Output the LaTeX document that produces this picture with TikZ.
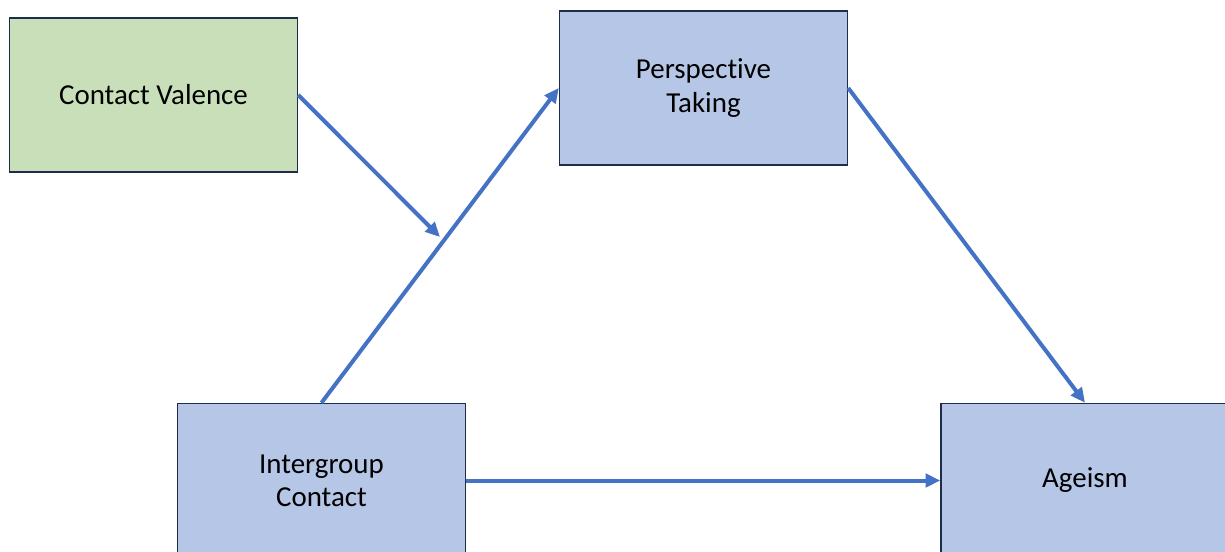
\documentclass[tikz,border=0pt]{standalone}
\usepackage{fontspec}
\setmainfont{Carlito}[Ligatures=NoCommon]
\usetikzlibrary{arrows.meta}
\definecolor{boxblue}{HTML}{B6C6E6}
\definecolor{boxgreen}{HTML}{C9DFB9}
\definecolor{edgenavy}{HTML}{1F2D4D}
\definecolor{arrowblue}{HTML}{4472C4}
\tikzset{
  varbox/.style={draw=edgenavy, line width=1.1pt, fill=boxblue, minimum width=288*0.75pt, minimum height=154*0.75pt, inner sep=0pt, align=center, font=\fontsize{21.7pt}{25pt}\selectfont},
  link/.style={draw=arrowblue, line width=3pt, -{Triangle[length=11pt,width=10pt]}}
}
\begin{document}
\begin{tikzpicture}[x=0.75pt,y=-0.75pt]
\useasboundingbox (0,0) rectangle (1225,552);
\clip (0,0) rectangle (1225,552);
\node[varbox, fill=boxgreen] (cv) at (153.5,95) {Contact Valence};
\node[varbox] (pt) at (703.5,88) {Perspective\\Taking};
\node[varbox] (ic) at (321.5,480.5) {Intergroup\\Contact};
\node[varbox] (ag) at (1085,480.5) {Ageism};
\coordinate (mod) at (440,237);
\draw[link] (ic.north) -- (pt.west);
\draw[link] (pt.east) -- (ag.north);
\draw[link] (ic.east) -- (ag.west);
\draw[link] (cv.east) -- (mod);
\end{tikzpicture}
\end{document}
